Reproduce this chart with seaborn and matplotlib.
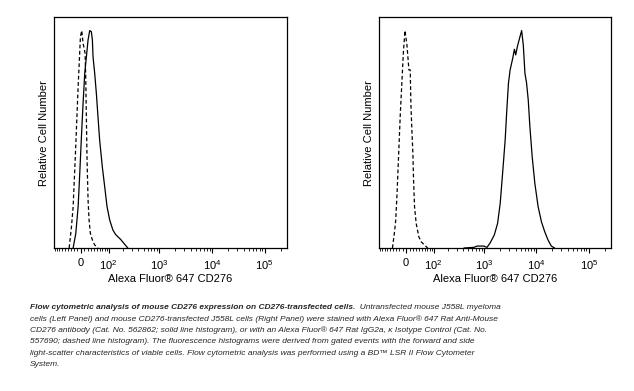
import pandas as pd
import seaborn as sns
import matplotlib
matplotlib.use('Agg')
import matplotlib.pyplot as plt
from matplotlib.ticker import FixedLocator, FixedFormatter, NullLocator

# Histogram outlines: fluorescence value, relative count
# Left panel (untransfected J558L)
left_iso_x = [-34.7, -27.4, -22.4, -15.5, -7.8, -1.2, 2.5, 6.3, 9.2, 12.0, 13.9,
              15.9, 17.8, 20.8, 23.8, 27.8, 34.1, 41.7, 53.3]
left_iso_y = [0.0, 0.098, 0.19, 0.436, 0.742, 0.972, 1.0, 0.942, 0.919, 0.896, 0.788,
              0.589, 0.405, 0.221, 0.129, 0.067, 0.037, 0.014, 0.0]
left_cd_x = [-22.4, -14.5, -7.8, -3.1, 1.6, 6.3, 11.1, 15.9, 20.8, 25.8, 30.9, 34.1,
             36.2, 41.7, 47.4, 53.3, 59.5, 70.2, 80.6, 91.7, 105.3, 123.6, 140.3,
             157.2, 183.4, 214.0, 248.9]
left_cd_y = [0.0, 0.067, 0.19, 0.344, 0.512, 0.666, 0.804, 0.88, 0.957, 1.0, 0.995, 0.957,
             0.88, 0.804, 0.712, 0.604, 0.497, 0.374, 0.282, 0.19, 0.129, 0.083, 0.063,
             0.052, 0.037, 0.018, 0.0]

# Right panel (CD276-transfected J558L)
right_iso_x = [-41.1, -33.5, -30.4, -26.3, -21.3, -16.4, -12.5, -7.7, -3.0, 2.6, 8.3,
               12.1, 14.0, 16.9, 19.9, 21.9, 24.9, 30.0, 38.5, 46.4, 58.4, 71.8]
right_iso_y = [0.0, 0.083, 0.129, 0.25, 0.436, 0.62, 0.742, 0.896, 1.0, 0.934, 0.819,
               0.819, 0.666, 0.543, 0.436, 0.313, 0.19, 0.113, 0.052, 0.029, 0.014, 0.0]
right_cd_x = [412, 639, 738, 987, 1142, 1320, 1571, 1816, 2039, 2290, 2534, 2724, 2929,
              3149, 3536, 3802, 4029, 4330, 4862, 5228, 5620, 6043, 6497, 6985, 7510,
              8310, 9331, 10786, 12467, 14413, 16660, 19260, 22263]
right_cd_y = [0.0, 0.003, 0.009, 0.009, 0.003, 0.025, 0.06, 0.113, 0.206, 0.359, 0.497,
              0.635, 0.758, 0.819, 0.873, 0.914, 0.888, 0.926, 0.972, 1.0, 0.934, 0.804,
              0.758, 0.681, 0.558, 0.42, 0.298, 0.19, 0.121, 0.075, 0.037, 0.009, 0.0]

major_ticks = [0, 1e2, 1e3, 1e4, 1e5]
major_labels = ['0', '$10^2$', '$10^3$', '$10^4$', '$10^5$']
minor_ticks = ([-k * 10 for k in range(1, 10)] + [k * 10 for k in range(1, 10)]
               + [k * 100 for k in range(2, 10)] + [k * 1000 for k in range(2, 10)]
               + [k * 10000 for k in range(2, 10)] + [200000])

caption_bold = 'Flow cytometric analysis of mouse CD276 expression on CD276-transfected cells.'
caption_lines = [
    '  Untransfected mouse J558L myeloma',
    'cells (Left Panel) and mouse CD276-transfected J558L cells (Right Panel) were stained with Alexa Fluor® 647 Rat Anti-Mouse',
    'CD276 antibody (Cat. No. 562862; solid line histogram), or with an Alexa Fluor® 647 Rat IgG2a, κ Isotype Control (Cat. No.',
    '557690; dashed line histogram). The fluorescence histograms were derived from gated events with the forward and side',
    'light-scatter characteristics of viable cells. Flow cytometric analysis was performed using a BD™ LSR II Flow Cytometer',
    'System.',
]

sns.set_style('white')
plt.rcParams['font.family'] = ['Liberation Sans', 'DejaVu Sans']
plt.rcParams['mathtext.fontset'] = 'custom'
plt.rcParams['mathtext.rm'] = 'Liberation Sans'
plt.rcParams['mathtext.it'] = 'Liberation Sans:italic'
plt.rcParams['mathtext.bf'] = 'Liberation Sans:bold'


def draw_panel(ax, iso_x, iso_y, cd_x, cd_y):
    df = pd.concat([
        pd.DataFrame({'fl': iso_x, 'count': iso_y, 'stain': 'Isotype'}),
        pd.DataFrame({'fl': cd_x, 'count': cd_y, 'stain': 'CD276'}),
    ], ignore_index=True)
    sns.lineplot(data=df, x='fl', y='count', style='stain',
                 dashes={'CD276': '', 'Isotype': (3, 2)}, color='black',
                 linewidth=0.9, sort=False, estimator=None, legend=False, ax=ax)
    ax.set_xscale('asinh', linear_width=65)
    ax.set_xlim(-95, 262143)
    ax.set_ylim(0, 1.061)
    ax.xaxis.set_major_locator(FixedLocator(major_ticks))
    ax.xaxis.set_major_formatter(FixedFormatter(major_labels))
    ax.xaxis.set_minor_locator(FixedLocator(minor_ticks))
    ax.yaxis.set_major_locator(NullLocator())
    ax.yaxis.set_minor_locator(NullLocator())
    ax.tick_params(axis='x', which='major', bottom=True, direction='out', length=3.5,
                   width=0.8, color='black', labelcolor='black', labelsize=8, pad=4)
    ax.tick_params(axis='x', which='minor', bottom=True, direction='out', length=2.0,
                   width=0.6, color='black')
    for sp in ax.spines.values():
        sp.set_visible(True)
        sp.set_color('black')
        sp.set_linewidth(0.9)
    ax.set_xlabel('Alexa Fluor® 647 CD276', fontsize=8, labelpad=1.5, color='black')
    ax.set_ylabel('Relative Cell Number', fontsize=8, labelpad=3.5, color='black')


fig = plt.figure(figsize=(6.34, 3.91), dpi=100)
ax_l = fig.add_axes([0.0852, 0.3657, 0.367, 0.590])
ax_r = fig.add_axes([0.5983, 0.3657, 0.365, 0.590])
draw_panel(ax_l, left_iso_x, left_iso_y, left_cd_x, left_cd_y)
draw_panel(ax_r, right_iso_x, right_iso_y, right_cd_x, right_cd_y)

# caption
cap_size = 6.05
line_y = [307.7, 319.0, 330.3, 341.7, 353.0, 364.3]
x0 = 30 / 634
t_bold = fig.text(x0, 1 - line_y[0] / 391, caption_bold, fontsize=cap_size,
                  fontstyle='italic', fontweight='bold', va='center', ha='left')
fig.canvas.draw()
bb = t_bold.get_window_extent(fig.canvas.get_renderer())
fig.text(bb.x1 / fig.bbox.width, 1 - line_y[0] / 391, caption_lines[0], fontsize=cap_size,
         fontstyle='italic', va='center', ha='left')
for yy, line in zip(line_y[1:], caption_lines[1:]):
    fig.text(x0, 1 - yy / 391, line, fontsize=cap_size, fontstyle='italic',
             va='center', ha='left')

fig.savefig('out.png', dpi=100)
